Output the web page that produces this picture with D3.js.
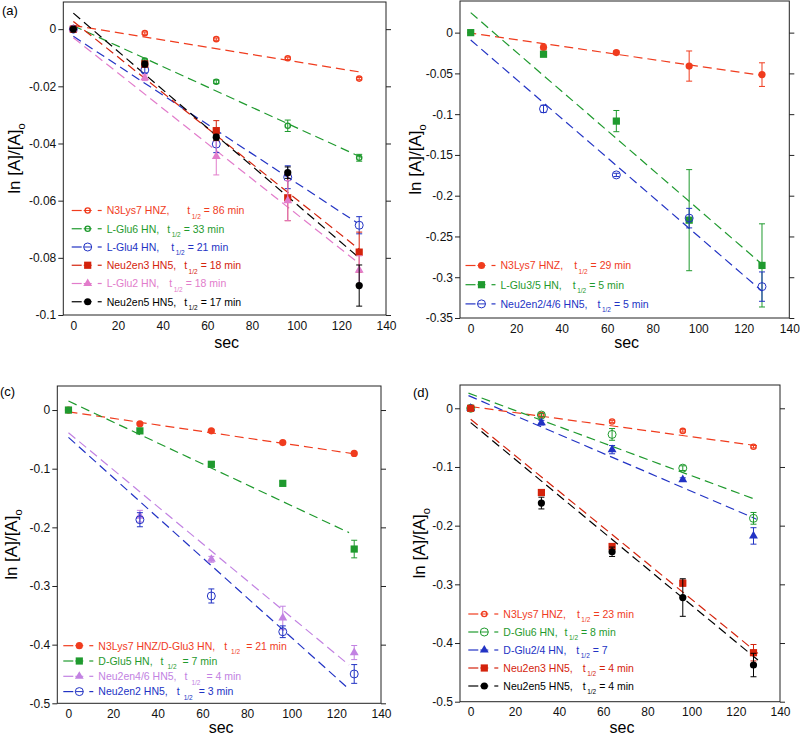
<!DOCTYPE html>
<html><head><meta charset="utf-8">
<script src="https://cdn.jsdelivr.net/npm/d3@7"></script>
<style>
body{margin:0;background:#fff}
svg{font-family:"Liberation Sans",Arial,Helvetica,sans-serif}
text{white-space:pre}
</style></head><body>
<svg id="chart" width="800" height="735"></svg>
<script>
// ---------- shared data ----------
const timeSec = [0, 32, 64, 96, 128];
const xTickValues = [0, 20, 40, 60, 80, 100, 120, 140];

// ---------- panel (a) ----------
const aNames = ["N3Lys7 HNZ,", "L-Glu6 HN,", "L-Glu4 HN,", "Neu2en3 HN5,", "L-Glu2 HN,", "Neu2en5 HN5,"];
const aHalfLife = ["= 86 min", "= 33 min", "= 21 min", "= 18 min", "= 18 min", "= 17 min"];
const aValues = [
  [0, -0.0014, -0.0035, -0.0102, -0.0173],
  [0, -0.0110, -0.0184, -0.0338, -0.0450],
  [0, -0.0143, -0.0402, -0.0518, -0.0686],
  [0, -0.0122, -0.0355, -0.0590, -0.0780],
  [0, -0.0170, -0.0445, -0.0600, -0.0843],
  [0, -0.0122, -0.0378, -0.0502, -0.0897]
];
const aErrors = [
  [0, 0.0004, 0.0004, 0.0004, 0.0004],
  [0, 0.0005, 0.0006, 0.0020, 0.0012],
  [0, 0.0010, 0.0030, 0.0040, 0.0030],
  [0, 0.0010, 0.0035, 0.0080, 0.0070],
  [0, 0.0010, 0.0065, 0.0070, 0.0050],
  [0, 0.0010, 0.0010, 0.0020, 0.0072]
];
const aFitStart = [[0, 0.0013], [0, 0.0012], [0, -0.0025], [0, 0.0027], [0, -0.0030], [0, 0.0056]];
const aFitEnd = [[130, -0.0152], [130, -0.0452], [127, -0.0677], [128, -0.0770], [128, -0.0820], [128, -0.0800]];
const aYTicks = [0, -0.02, -0.04, -0.06, -0.08, -0.1];

// ---------- panel (b) ----------
const bNames = ["N3Lys7 HNZ,", "L-Glu3/5 HN,", "Neu2en2/4/6 HN5,"];
const bHalfLife = ["= 29 min", "= 5 min", "= 5 min"];
const bValues = [
  [null, -0.0180, -0.0245, -0.0410, -0.0515],
  [0, -0.0265, -0.1085, -0.2300, -0.2855],
  [null, -0.0935, -0.1745, -0.2275, -0.3115]
];
const bErrors = [
  [0, 0.003, 0.002, 0.0185, 0.0145],
  [0, 0.002, 0.013, 0.062, 0.051],
  [0, 0.0045, 0.002, 0.012, 0.018]
];
const bFitStart = [[-1.5, 0.0001], [0, 0.0245], [0, -0.0090]];
const bFitEnd = [[128, -0.0525], [128, -0.2840], [128, -0.3170]];
const bYTicks = [0, -0.05, -0.1, -0.15, -0.2, -0.25, -0.3, -0.35];

// ---------- panel (c) ----------
const cNames = ["N3Lys7 HNZ/D-Glu3 HN,", "D-Glu5 HN,", "Neu2en4/6 HN5,", "Neu2en2 HN5,"];
const cHalfLife = ["= 21 min", "= 7 min", "= 4 min", "= 3 min"];
const cValues = [
  [0, -0.0235, -0.0355, -0.0555, -0.0740],
  [0, -0.0355, -0.0925, -0.1250, -0.2370],
  [null, -0.1810, -0.2545, -0.3545, -0.4135],
  [null, -0.1870, -0.3170, -0.3780, -0.4500]
];
const cErrors = [
  [0, 0.002, 0.002, 0.002, 0.002],
  [0, 0.003, 0.004, 0.003, 0.015],
  [0, 0.010, 0.005, 0.020, 0.012],
  [0, 0.012, 0.012, 0.010, 0.016]
];
const cFitStart = [[0, -0.0030], [0, 0.0153], [0, -0.0386], [0, -0.0466]];
const cFitEnd = [[128.7, -0.0750], [125.7, -0.2090], [125.7, -0.4347], [125.7, -0.4760]];
const cYTicks = [0, -0.1, -0.2, -0.3, -0.4, -0.5];

// ---------- panel (d) ----------
const dNames = ["N3Lys7 HNZ,", "D-Glu6 HN,", "D-Glu2/4 HN,", "Neu2en3 HN5,", "Neu2en5 HN5,"];
const dHalfLife = ["= 23 min", "= 8 min", "= 7", "= 4 min", "= 4 min"];
const dValues = [
  [0, -0.0115, -0.0225, -0.0385, -0.0655],
  [0, -0.0115, -0.0445, -0.1020, -0.1875],
  [0, -0.0245, -0.0705, -0.1215, -0.2175],
  [0, -0.1435, -0.2355, -0.2980, -0.4165],
  [null, -0.1615, -0.2445, -0.3225, -0.4375]
];
const dErrors = [
  [0, 0.002, 0.002, 0.002, 0.002],
  [0, 0.003, 0.010, 0.004, 0.010],
  [0, 0.004, 0.007, 0.003, 0.014],
  [0, 0.003, 0.005, 0.005, 0.014],
  [0, 0.010, 0.008, 0.032, 0.020]
];
const dFitStart = [[0, 0.0030], [-1, 0.0258], [-1, 0.0216], [0, -0.0188], [0, -0.0244]];
const dFitEnd = [[130, -0.0640], [129.4, -0.1560], [129.4, -0.1890], [130, -0.4176], [130, -0.4290]];
const dYTicks = [0, -0.1, -0.2, -0.3, -0.4, -0.5];

// ---------- styles / layout ----------
const COL = {red: "#f03c1e", green: "#1f9a2e", blue: "#2233c4", dred: "#d4230c",
             pink: "#e27ccb", black: "#000000", lav: "#c282e2"};

const panels = [
  {tag: "(a)", names: aNames, half: aHalfLife, values: aValues, errors: aErrors,
   fit0: aFitStart, fit1: aFitEnd, yTicks: aYTicks,
   colors: [COL.red, COL.green, COL.blue, COL.dred, COL.pink, COL.black],
   marks: ["ocircS", "ocircS", "ocirc", "square", "triangle", "circle"],
   box: {l: 63.3, r: 386, t: 2, b: 315}, xDom: [-4.5, 140], yDom: [-0.1, 0.0095],
   leg: {x: 71.7, y: 210.5, dy: 18.25, gaps: [18, 8, 12, 8, 10, 8], subDx: 1.5, restDx: 3},
   tagPos: [2, 15], ylabX: 20, secY: 348},
  {tag: "", names: bNames, half: bHalfLife, values: bValues, errors: bErrors,
   fit0: bFitStart, fit1: bFitEnd, yTicks: bYTicks,
   colors: [COL.red, COL.green, COL.blue],
   marks: ["circle", "square", "ocirc"],
   box: {l: 460, r: 789.3, t: 1, b: 318}, xDom: [-4.7, 140], yDom: [-0.35, 0.0388],
   leg: {x: 465.5, y: 265.5, dy: 19.2, gaps: [11, 11, 10], subDx: 1.5, restDx: 3},
   tagPos: null, ylabX: 421, secY: 348},
  {tag: "(c)", names: cNames, half: cHalfLife, values: cValues, errors: cErrors,
   fit0: cFitStart, fit1: cFitEnd, yTicks: cYTicks,
   colors: [COL.red, COL.green, COL.lav, COL.blue],
   marks: ["circle", "square", "triangle", "ocirc"],
   box: {l: 57.3, r: 381, t: 386, b: 703.3}, xDom: [-5, 140], yDom: [-0.5, 0.041],
   leg: {x: 63.3, y: 645.7, dy: 15.3, gaps: [9, 8, 8, 9], subDx: 4, restDx: 6},
   tagPos: [0, 396], ylabX: 17, secY: 733},
  {tag: "(d)", names: dNames, half: dHalfLife, values: dValues, errors: dErrors,
   fit0: dFitStart, fit1: dFitEnd, yTicks: dYTicks,
   colors: [COL.red, COL.green, COL.blue, COL.dred, COL.black],
   marks: ["ocircS", "ocirc", "triangle", "square", "circle"],
   box: {l: 460, r: 780, t: 385, b: 701.7}, xDom: [-4.84, 140], yDom: [-0.5, 0.0397],
   leg: {x: 468.3, y: 614, dy: 18, gaps: [11, 7, 10, 10, 10], subDx: 1.5, restDx: 3},
   tagPos: [413, 397], ylabX: 425, secY: 733}
];

const svg = d3.select("#chart");

function drawMarker(g, type, color, x, y) {
  if (type === "square") {
    g.append("rect").attr("x", x - 3.6).attr("y", y - 3.6).attr("width", 7.2).attr("height", 7.2).attr("fill", color);
  } else if (type === "triangle") {
    g.append("path").attr("d", d3.symbol(d3.symbolTriangle, 34)()).attr("transform", `translate(${x},${y})`).attr("fill", color);
  } else if (type === "circle") {
    g.append("circle").attr("cx", x).attr("cy", y).attr("r", 3.6).attr("fill", color);
  } else if (type === "ocirc") {
    g.append("circle").attr("cx", x).attr("cy", y).attr("r", 4).attr("fill", "none").attr("stroke", color).attr("stroke-width", 1);
  } else if (type === "ocircS") {
    g.append("circle").attr("cx", x).attr("cy", y).attr("r", 2.6).attr("fill", "none").attr("stroke", color).attr("stroke-width", 1.4);
  }
}

const fmt = d => d === 0 ? "0" : String(+d.toFixed(3));

panels.forEach(p => {
  const x = d3.scaleLinear().domain(p.xDom).range([p.box.l, p.box.r]);
  const y = d3.scaleLinear().domain(p.yDom).range([p.box.b, p.box.t]);
  const g = svg.append("g");

  // frame
  g.append("rect").attr("x", p.box.l).attr("y", p.box.t)
    .attr("width", p.box.r - p.box.l).attr("height", p.box.b - p.box.t)
    .attr("fill", "none").attr("stroke", "#222").attr("stroke-width", 1);

  // left axis
  const ya = g.append("g").attr("transform", `translate(${p.box.l},0)`)
    .call(d3.axisLeft(y).tickValues(p.yTicks).tickSize(5).tickPadding(2).tickFormat(fmt));
  ya.select(".domain").remove();
  ya.selectAll("text").attr("font-size", 12).attr("font-family", null).attr("fill", "#111");
  ya.selectAll("line").attr("stroke", "#222");

  // right ticks
  const yr = g.append("g").attr("transform", `translate(${p.box.r},0)`)
    .call(d3.axisRight(y).tickValues(p.yTicks).tickSize(5).tickFormat(""));
  yr.select(".domain").remove();
  yr.selectAll("line").attr("stroke", "#222");

  // bottom axis
  const xa = g.append("g").attr("transform", `translate(0,${p.box.b})`)
    .call(d3.axisBottom(x).tickValues(xTickValues).tickSize(0).tickPadding(6).tickFormat(d3.format("d")));
  xa.select(".domain").remove();
  xa.selectAll("text").attr("font-size", 12).attr("font-family", null).attr("fill", "#111");

  // axis titles
  g.append("text").attr("x", (p.box.l + p.box.r) / 2 + 2).attr("y", p.secY)
    .attr("text-anchor", "middle").attr("font-size", 16).text("sec");
  const yl = g.append("text")
    .attr("transform", `translate(${p.ylabX},${(p.box.t + p.box.b) / 2}) rotate(-90)`)
    .attr("text-anchor", "middle").attr("font-size", 17);
  yl.append("tspan").text("ln [A]/[A]");
  yl.append("tspan").attr("dy", 5).attr("font-size", 11).text("o");

  if (p.tag) {
    g.append("text").attr("x", p.tagPos[0]).attr("y", p.tagPos[1]).attr("font-size", 13).text(p.tag);
  }

  // fit lines
  p.names.forEach((n, i) => {
    g.append("line")
      .attr("x1", x(p.fit0[i][0])).attr("y1", y(p.fit0[i][1]))
      .attr("x2", x(p.fit1[i][0])).attr("y2", y(p.fit1[i][1]))
      .attr("stroke", p.colors[i]).attr("stroke-width", 1.2).attr("stroke-dasharray", "9,5");
  });

  // error bars + markers
  p.names.forEach((n, i) => {
    const c = p.colors[i];
    timeSec.forEach((t, j) => {
      const v = p.values[i][j];
      if (v === null) return;
      const e = p.errors[i][j];
      if (e > 0) {
        const px = x(t);
        g.append("line").attr("x1", px).attr("x2", px).attr("y1", y(v - e)).attr("y2", y(v + e)).attr("stroke", c).attr("stroke-width", 1);
        [v - e, v + e].forEach(vv => g.append("line").attr("x1", px - 3).attr("x2", px + 3).attr("y1", y(vv)).attr("y2", y(vv)).attr("stroke", c).attr("stroke-width", 1));
      }
    });
    timeSec.forEach((t, j) => {
      const v = p.values[i][j];
      if (v === null) return;
      drawMarker(g, p.marks[i], c, x(t), y(v));
    });
  });

  // legend
  p.names.forEach((n, i) => {
    const c = p.colors[i];
    const lx = p.leg.x, ly = p.leg.y + i * p.leg.dy;
    const lg = g.append("g");
    lg.append("line").attr("x1", lx).attr("x2", lx + 10).attr("y1", ly).attr("y2", ly).attr("stroke", c).attr("stroke-width", 1.2);
    lg.append("line").attr("x1", lx + 12).attr("x2", lx + 20).attr("y1", ly).attr("y2", ly).attr("stroke", c).attr("stroke-width", 1);
    lg.append("line").attr("x1", lx + 26).attr("x2", lx + 30).attr("y1", ly).attr("y2", ly).attr("stroke", c).attr("stroke-width", 1.2);
    drawMarker(lg, p.marks[i], c, lx + 16, ly);
    const tx = lg.append("text").attr("x", lx + 35).attr("y", ly + 3.8).attr("fill", c).attr("font-size", 10.5);
    tx.append("tspan").text(n);
    tx.append("tspan").attr("dx", p.leg.gaps[i]).text("t");
    tx.append("tspan").attr("dx", p.leg.subDx).attr("dy", 4.5).attr("font-size", 6.5).text("1/2");
    tx.append("tspan").attr("dx", p.leg.restDx).attr("dy", -4.5).text(p.half[i]);
  });
});
</script>
</body></html>
